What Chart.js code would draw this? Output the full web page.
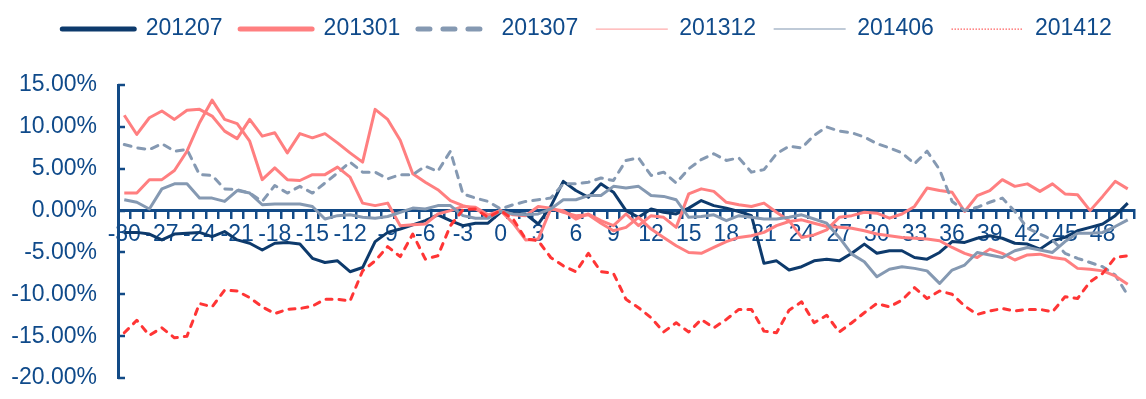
<!DOCTYPE html>
<html><head><meta charset="utf-8">
<script src="https://cdn.jsdelivr.net/npm/chart.js@4/dist/chart.umd.min.js"></script>
<style>html,body{margin:0;padding:0;background:#fff}</style>
</head><body>
<canvas id="c" width="1146" height="399"></canvas>
<script>
const days = ['-30','-29','-28','-27','-26','-25','-24','-23','-22','-21','-20','-19','-18','-17','-16','-15','-14','-13','-12','-11','-10','-9','-8','-7','-6','-5','-4','-3','-2','-1','0','1','2','3','4','5','6','7','8','9','10','11','12','13','14','15','16','17','18','19','20','21','22','23','24','25','26','27','28','29','30','31','32','33','34','35','36','37','38','39','40','41','42','43','44','45','46','47','48','49','50'];

const s201207 = [-2.6,-2.6,-2.8,-3.5,-2.8,-2.7,-2.6,-3.1,-2.5,-3.5,-3.9,
  -4.7,-3.9,-3.8,-4.0,-5.7,-6.2,-6.0,-7.3,-6.8,-3.7,
  -2.6,-2.2,-1.7,-1.2,-0.5,-1.2,-1.8,-1.5,-1.5,-0.2,
  -0.3,-0.4,-1.6,0.5,3.5,2.4,1.6,3.2,2.2,0.0,
  -0.8,0.2,-0.2,-0.4,0.3,1.2,0.6,0.3,-0.1,-0.6,
  -6.3,-6.0,-7.1,-6.7,-6.0,-5.8,-6.0,-5.1,-4.0,-5.1,
  -4.8,-4.8,-5.6,-5.8,-5.0,-3.7,-3.8,-3.3,-3.0,-3.3,
  -3.9,-4.0,-4.6,-3.6,-3.2,-2.4,-2.0,-1.6,-0.6,0.9];
const s201301 = [11.4,9.1,11.1,11.9,10.9,12.0,12.1,11.3,9.5,8.6,10.9,
  8.9,9.3,6.9,9.2,8.7,9.2,8.1,6.9,5.8,12.1,
  10.9,8.4,4.4,3.4,2.5,1.2,0.6,0.2,-0.6,0.0,
  -1.5,-3.5,-3.4,0.2,0.0,-1.0,-0.4,-1.2,-1.8,-0.4,
  -1.8,-0.6,-0.8,-2.0,2.0,2.6,2.3,1.0,0.7,0.5,
  0.9,-0.2,-1.2,-3.2,-2.9,-2.3,-0.8,-0.6,-0.2,-0.3,
  -0.9,-0.4,0.5,2.7,2.4,2.2,-0.1,1.8,2.4,3.7,
  2.9,3.2,2.3,3.2,2.0,1.9,0.0,1.7,3.5,2.6];
const s201307 = [7.9,7.5,7.3,8.0,7.1,7.3,4.3,4.2,2.6,2.5,2.1,
  1.1,3.0,2.1,2.9,2.1,3.3,4.5,5.8,4.6,4.6,
  3.8,4.3,4.3,5.3,4.7,7.1,2.0,1.5,1.1,0.2,
  0.7,1.1,1.3,1.5,3.2,3.2,3.4,3.9,3.6,6.0,
  6.3,4.2,4.6,3.3,5.0,6.1,6.8,6.0,6.3,4.6,
  4.9,6.8,7.7,7.5,9.0,10.0,9.5,9.3,8.8,8.0,
  7.5,6.9,5.6,7.1,4.9,1.1,0.0,0.4,1.0,1.5,
  -0.1,-2.1,-2.8,-3.5,-5.1,-5.7,-6.2,-6.7,-7.7,-10.1];
const s201312 = [2.1,2.1,3.7,3.7,4.8,7.1,10.5,13.2,10.9,10.4,8.3,
  3.7,5.1,3.7,3.6,4.3,4.3,5.2,4.0,0.9,0.6,
  0.9,-1.8,-1.7,-1.6,-0.4,0.0,0.5,0.4,-0.5,0.0,
  -0.5,-0.6,0.5,0.3,-0.2,-0.6,-0.5,-1.5,-2.4,-2.0,
  -0.8,-2.2,-3.2,-4.2,-5.0,-5.1,-4.4,-3.7,-3.2,-3.0,
  -2.6,-1.8,-1.3,-1.1,-1.5,-1.9,-2.0,-2.1,-2.4,-2.8,
  -3.0,-3.2,-3.3,-3.4,-3.6,-4.4,-5.1,-5.6,-4.6,-5.1,
  -5.9,-5.3,-5.2,-5.6,-5.8,-6.9,-7.0,-7.2,-7.8,-8.8];
const s201406 = [1.3,1.0,0.2,2.6,3.2,3.2,1.5,1.5,1.1,2.4,2.1,
  0.7,0.8,0.8,0.8,0.5,-1.0,-0.6,-0.5,-0.8,-0.9,
  -0.7,-0.2,0.3,0.2,0.6,0.6,-0.6,-0.9,-0.9,-0.1,
  -0.4,-0.5,-0.4,0.2,1.3,1.3,1.8,1.8,2.9,2.7,
  2.9,1.8,1.7,1.3,-0.8,-0.7,-0.5,-1.2,-0.6,-0.8,
  -1.0,-1.0,-0.8,-0.5,-1.0,-1.5,-3.2,-5.2,-6.1,-7.9,
  -7.0,-6.7,-6.9,-7.2,-8.7,-7.1,-6.5,-5.0,-5.3,-5.6,
  -4.8,-4.4,-4.7,-5.0,-3.7,-2.7,-2.7,-2.6,-1.9,-1.1];
const s201412 = [-14.6,-13.1,-14.9,-14.0,-15.2,-15.0,-11.1,-11.5,-9.5,-9.6,-10.4,
  -11.5,-12.3,-11.8,-11.7,-11.4,-10.6,-10.6,-10.8,-7.2,-6.0,
  -4.3,-5.5,-2.8,-5.8,-5.4,-1.8,0.1,0.2,-0.8,0.0,
  -1.0,-3.4,-3.6,-5.6,-6.6,-7.3,-5.1,-7.3,-7.5,-10.6,
  -11.6,-12.8,-14.5,-13.4,-14.5,-13.0,-14.0,-13.0,-11.8,-11.8,
  -14.4,-14.6,-11.9,-10.9,-13.4,-12.5,-14.5,-13.4,-12.2,-11.1,
  -11.5,-10.7,-9.2,-10.5,-9.6,-10.0,-11.4,-12.4,-12.0,-11.7,
  -12.0,-11.8,-11.8,-12.1,-10.3,-10.5,-8.5,-7.5,-5.6,-5.4];
const seriesNames = ['201207','201301','201307','201312','201406','201412'];
const yTicks = [15,10,5,0,-5,-10,-15,-20];

const NAVY='#0d3a6c', SALMON='#ff7f80', BLUEGRAY='#8599b2', RED='#ff3535';
const TXT='#0f4a8a', AXIS='#124a86';
const FONT="'Liberation Sans', Arial, Helvetica, sans-serif";

const lineStyles = [
  {color:NAVY, dash:[]},
  {color:SALMON, dash:[]},
  {color:BLUEGRAY, dash:[7,7]},
  {color:SALMON, dash:[]},
  {color:BLUEGRAY, dash:[]},
  {color:RED, dash:[6,7]}
];
const legendStyles = [
  {color:NAVY, width:5, dash:[], cap:'round'},
  {color:SALMON, width:5, dash:[], cap:'round'},
  {color:BLUEGRAY, width:5, dash:[12,13], cap:'round'},
  {color:'#ffabab', width:1.3, dash:[], cap:'butt'},
  {color:'#aab8ca', width:1.5, dash:[], cap:'butt'},
  {color:'#ff6060', width:1.3, dash:[1.5,1.5], cap:'butt'}
];
const allSeries = [s201207,s201301,s201307,s201312,s201406,s201412];

const datasets = allSeries.map((d,i)=>({
  label: seriesNames[i], data: d,
  borderColor: lineStyles[i].color, backgroundColor: lineStyles[i].color,
  borderWidth: 3, borderDash: lineStyles[i].dash,
  borderCapStyle: lineStyles[i].dash.length ? 'round' : 'butt',
  borderJoinStyle: 'round', pointRadius: 0, tension: 0, fill: false,
  order: 10 - i
}));

const yInnerTicks = {
  id:'yInnerTicks',
  beforeDatasetsDraw(chart){
    const ys = chart.scales.y, ctx = chart.ctx, x0 = chart.chartArea.left;
    ctx.save(); ctx.strokeStyle = AXIS; ctx.lineWidth = 2.5;
    yTicks.forEach(v=>{ const py = Math.round(ys.getPixelForValue(v)); ctx.beginPath(); ctx.moveTo(x0, py); ctx.lineTo(x0+7, py); ctx.stroke(); });
    ctx.restore();
  }
};
const legendGap = {
  id:'legendGap',
  beforeLayout(chart){
    const lg = chart.legend;
    if (lg && !lg._gapPatched){
      const f = lg.fit;
      lg.fit = function(){ f.call(this); this.height += 34.5; };
      const d = lg.draw;
      lg.draw = function(){ const c = this.ctx; c.save(); c.translate(14,0); d.call(this); c.restore(); };
      lg._gapPatched = true;
    }
  }
};

new Chart(document.getElementById('c'), {
  type:'line',
  data:{ labels: days, datasets },
  plugins:[yInnerTicks, legendGap],
  options:{
    responsive:false, animation:false, events:[],
    layout:{ padding:{ left:0, right:0, top:0, bottom:21 } },
    plugins:{
      tooltip:{enabled:false},
      legend:{
        position:'top',
        labels:{
          usePointStyle:true, pointStyleWidth:72, padding:17.6,
          color:TXT, font:{family:FONT, size:23},
          generateLabels(){
            return seriesNames.map((n,i)=>({
              text:n, fillStyle:legendStyles[i].color, strokeStyle:legendStyles[i].color,
              lineWidth:legendStyles[i].width, lineDash:legendStyles[i].dash, lineCap:legendStyles[i].cap,
              pointStyle:'line', hidden:false, datasetIndex:i, fontColor:TXT
            }));
          }
        }
      }
    },
    scales:{
      x:{
        type:'category', offset:true, position:{y:0},
        grid:{display:true, offset:true, drawOnChartArea:false, drawTicks:true, tickLength:7, color:AXIS, lineWidth:2.5},
        border:{display:true, color:AXIS, width:3},
        ticks:{autoSkip:false, maxRotation:0, minRotation:0, padding:3, color:TXT, font:{family:FONT,size:23},
          callback(v,i){ const l = days[i]; return (Number(l) % 3 === 0) ? l : ''; }}
      },
      y:{
        min:-20, max:15,
        afterBuildTicks(s){ s.ticks = yTicks.map(v=>({value:v})); },
        grid:{display:false, drawTicks:false},
        border:{display:true, color:AXIS, width:3},
        ticks:{padding:21, color:TXT, font:{family:FONT,size:23}, callback:v=>Number(v).toFixed(2)+'%'},
        afterFit(s){ s.width = 118; s.paddingTop = 0; s.paddingBottom = 0; }
      },
      y2:{
        position:'right', min:0, max:1, display:true,
        grid:{display:false, drawTicks:false}, border:{display:false}, ticks:{display:false},
        afterFit(s){ s.width = 12; s.paddingTop = 0; s.paddingBottom = 0; }
      }
    }
  }
});
</script>
</body></html>
